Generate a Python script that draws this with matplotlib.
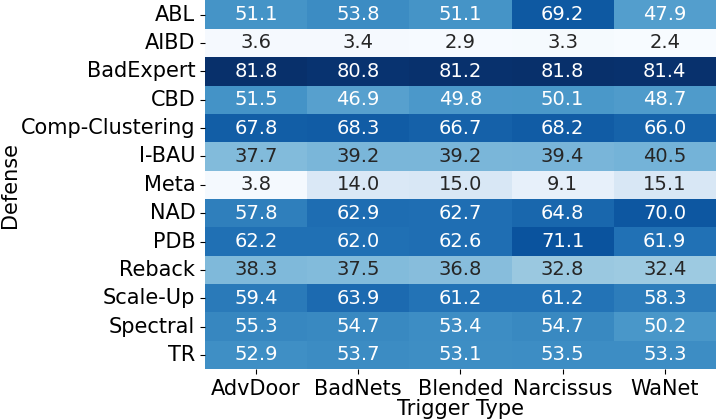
import numpy as np
import pandas as pd
import matplotlib
matplotlib.use('Agg')
import matplotlib.pyplot as plt
import seaborn as sns

defenses = ['ABL', 'AIBD', 'BadExpert', 'CBD', 'Comp-Clustering', 'I-BAU', 'Meta',
            'NAD', 'PDB', 'Reback', 'Scale-Up', 'Spectral', 'TR']
triggers = ['AdvDoor', 'BadNets', 'Blended', 'Narcissus', 'WaNet']

advdoor = [51.1, 3.6, 81.8, 51.5, 67.8, 37.7, 3.8, 57.8, 62.2, 38.3, 59.4, 55.3, 52.9]
badnets = [53.8, 3.4, 80.8, 46.9, 68.3, 39.2, 14.0, 62.9, 62.0, 37.5, 63.9, 54.7, 53.7]
blended = [51.1, 2.9, 81.2, 49.8, 66.7, 39.2, 15.0, 62.7, 62.6, 36.8, 61.2, 53.4, 53.1]
narcissus = [69.2, 3.3, 81.8, 50.1, 68.2, 39.4, 9.1, 64.8, 71.1, 32.8, 61.2, 54.7, 53.5]
wanet = [47.9, 2.4, 81.4, 48.7, 66.0, 40.5, 15.1, 70.0, 61.9, 32.4, 58.3, 50.2, 53.3]

df = pd.DataFrame({'AdvDoor': advdoor, 'BadNets': badnets, 'Blended': blended,
                   'Narcissus': narcissus, 'WaNet': wanet}, index=defenses)

fig, ax = plt.subplots(figsize=(7.18, 4.2), dpi=100)
plt.subplots_adjust(left=0.2855, right=0.997, top=0.999, bottom=0.121)

sns.heatmap(df, ax=ax, cmap='Blues', annot=True, fmt='.1f', cbar=False,
            annot_kws={'fontsize': 14})

ax.set_xlabel('Trigger Type', fontsize=15, labelpad=0)
ax.set_ylabel('Defense', fontsize=15)
ax.yaxis.set_label_coords(-0.362, 0.5)
ax.tick_params(axis='both', labelsize=15)
plt.yticks(rotation=0)
plt.xticks(rotation=0)

plt.savefig('out.png', dpi=100)
